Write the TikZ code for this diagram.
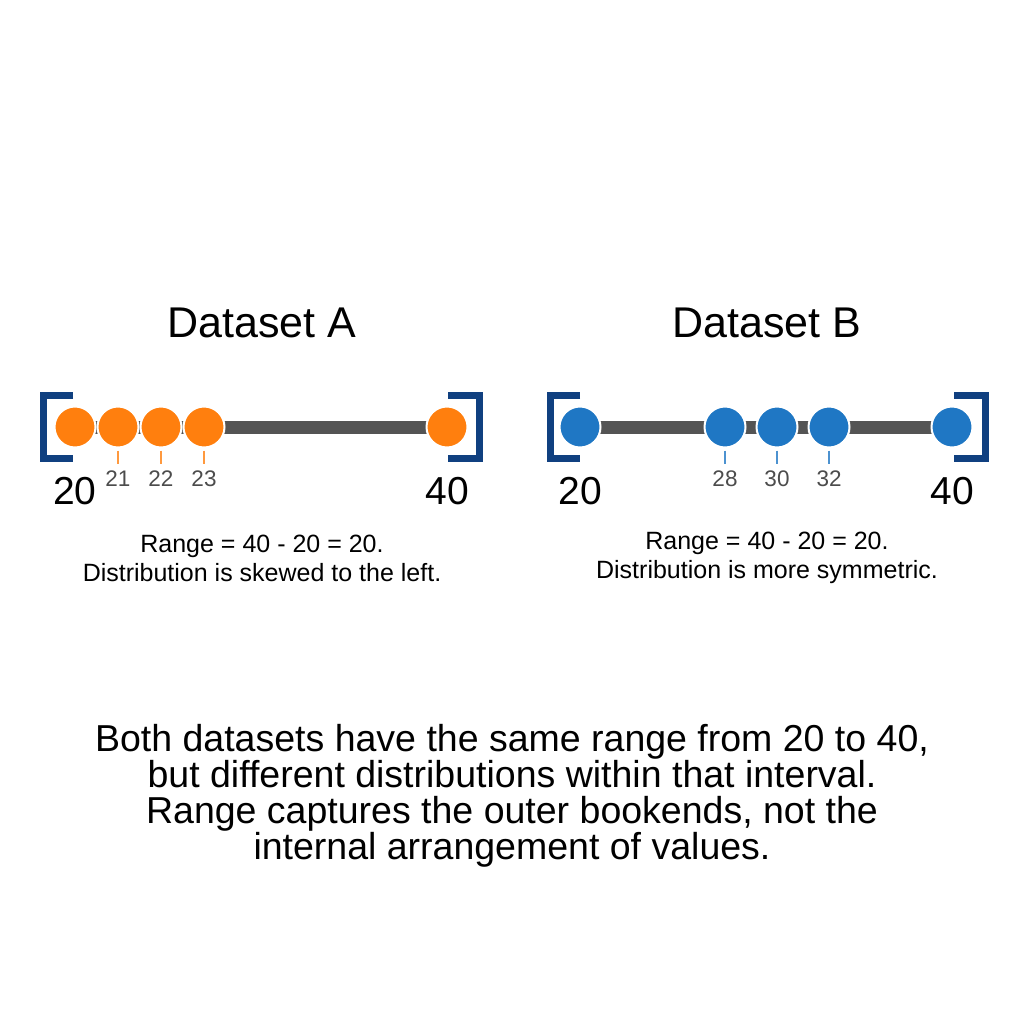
\documentclass[tikz,border=0pt]{standalone}
\usepackage{fontspec}
\setmainfont{Liberation Sans}
\definecolor{navy}{RGB}{16,64,128}
\definecolor{orA}{RGB}{255,127,14}
\definecolor{blB}{RGB}{31,119,196}
\begin{document}
\begin{tikzpicture}[x=1pt,y=-1pt,
  bar/.style={line width=13pt,draw=black!67},
  brk/.style={line width=7pt,draw=navy,line cap=butt},
  dotA/.style={circle,fill=orA,draw=white,line width=2pt,minimum size=41pt,inner sep=0pt},
  dotB/.style={circle,fill=blB,draw=white,line width=2pt,minimum size=41pt,inner sep=0pt},
  tickA/.style={draw=orA!80,line width=1.2pt},
  tickB/.style={draw=blB!80,line width=1.2pt},
  small/.style={font=\fontsize{22.5}{26}\selectfont,text=black!70},
  big/.style={font=\fontsize{39}{44}\selectfont},
  title/.style={font=\fontsize{43}{48}\selectfont},
  captxt/.style={font=\fontsize{25}{29}\selectfont,align=center},
  foot/.style={font=\fontsize{37.5}{36}\selectfont,align=center}]
\useasboundingbox (0,0) rectangle (1024,1024);
% Dataset A
\node[title] (tA) at (262,323) {Dataset A};
\coordinate (a0) at (75,427); \coordinate (a4) at (447,427);
\draw[bar] (a0) -- (a4);
\draw[brk] (73,395.5) -- (43.5,395.5) -- (43.5,458.5) -- (73,458.5);
\draw[brk] (448,395.5) -- (479.5,395.5) -- (479.5,458.5) -- (448,458.5);
\node[dotA] (A0) at (a0) {};
\node[dotA] (A1) at (118,427) {};
\node[dotA] (A2) at (161,427) {};
\node[dotA] (A3) at (204,427) {};
\node[dotA] (A4) at (a4) {};
\foreach \i/\v in {1/21,2/22,3/23}{
  \coordinate (ta\i) at ([yshift=-2pt]A\i.south);
  \draw[tickA] (ta\i) -- ++(0,13);
  \node[small] (la\i) at ([yshift=-30pt]A\i.south) {\v};
}
\node[big] (l20a) at (75,491) {20};
\node[big] (l40a) at (447,491) {40};
\node[captxt] (cA) at (262,558) {Range = 40 - 20 = 20.\\Distribution is skewed to the left.};
% Dataset B
\node[title] (tB) at (767,323) {Dataset B};
\coordinate (b0) at (580,427); \coordinate (b4) at (952,427);
\draw[bar] (b0) -- (b4);
\draw[brk] (580,395.5) -- (550.5,395.5) -- (550.5,458.5) -- (580,458.5);
\draw[brk] (954,395.5) -- (985.5,395.5) -- (985.5,458.5) -- (954,458.5);
\node[dotB] (B0) at (b0) {};
\node[dotB] (B1) at (725,427) {};
\node[dotB] (B2) at (777,427) {};
\node[dotB] (B3) at (829,427) {};
\node[dotB] (B4) at (b4) {};
\foreach \i/\v in {1/28,2/30,3/32}{
  \coordinate (tb\i) at ([yshift=-2pt]B\i.south);
  \draw[tickB] (tb\i) -- ++(0,13);
  \node[small] (lb\i) at ([yshift=-30pt]B\i.south) {\v};
}
\node[big] (l20b) at (580,491) {20};
\node[big] (l40b) at (952,491) {40};
\node[captxt] (cB) at (767,558) {Range = 40 - 20 = 20.\\Distribution is more symmetric.};
% footer
\node[foot] (f) at (512,796) {Both datasets have the same range from 20 to 40,\\but different distributions within that interval.\\Range captures the outer bookends, not the\\internal arrangement of values.};
\end{tikzpicture}
\end{document}
